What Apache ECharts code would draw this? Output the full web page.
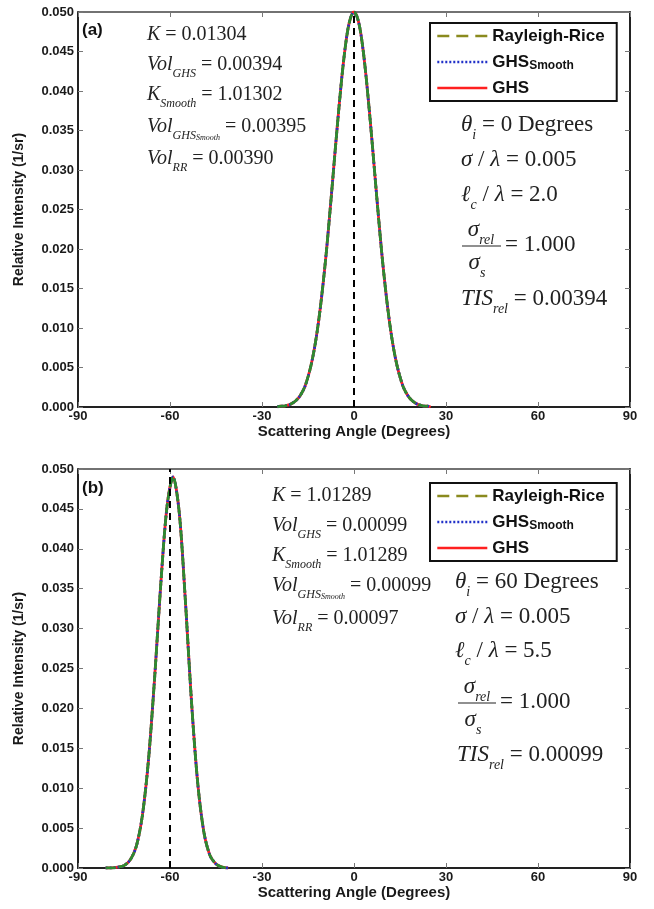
<!DOCTYPE html>
<html>
<head>
<meta charset="utf-8">
<script src="https://cdn.jsdelivr.net/npm/echarts@6/dist/echarts.min.js"></script>
<style>html,body{margin:0;padding:0;background:#fff;}#c{width:654px;height:909px;}</style>
</head>
<body>
<div id="c"></div>
<script>
// ---------------- data ----------------
const xTicks = [-90, -60, -30, 0, 30, 60, 90];
const yTicks = [0, 0.005, 0.01, 0.015, 0.02, 0.025, 0.03, 0.035, 0.04, 0.045, 0.05];
const seriesNames = ['Rayleigh-Rice', 'GHS_Smooth', 'GHS'];

// panel (a): theta_i = 0
const anglesA = [-25,-24,-23,-22,-21,-20,-19,-18,-17,-16,-15,-14,-13,-12,-11,-10,-9,-8,-7,-6,-5,-4,-3,-2,-1,0,
                 1,2,3,4,5,6,7,8,9,10,11,12,13,14,15,16,17,18,19,20,21,22,23,24,25];
const ghsA = [0.0000,0.0001,0.0001,0.0002,0.0003,0.0005,0.0008,0.0012,0.0018,0.0026,0.0038,0.0053,0.0072,0.0096,0.0125,0.0159,0.0197,0.0240,0.0285,0.0331,0.0375,0.0416,0.0451,0.0478,0.0494,0.0500,
              0.0494,0.0478,0.0451,0.0416,0.0375,0.0331,0.0285,0.0240,0.0197,0.0159,0.0125,0.0096,0.0072,0.0053,0.0038,0.0026,0.0018,0.0012,0.0008,0.0005,0.0003,0.0002,0.0001,0.0001,0.0000];
const ghsSmoothA = ghsA.slice();
const rayleighRiceA = ghsA.slice();
const incidenceA = 0;

// panel (b): theta_i = 60
const anglesB = [-81,-79,-77,-75,-73,-71,-69,-67,-65,-63,-61,-59,-57,-55,-53,-51,-49,-47,-45,-43,-41];
const ghsB = [0.0000,0.0000,0.0001,0.0003,0.0010,0.0027,0.0066,0.0136,0.0239,0.0356,0.0452,0.0490,0.0446,0.0336,0.0209,0.0108,0.0046,0.0016,0.0005,0.0001,0.0000];
const ghsSmoothB = ghsB.slice();
const rayleighRiceB = ghsB.slice();
const incidenceB = -60;
const yTop = 0.05;

// ---------------- helpers ----------------
const SANS = 'Liberation Sans';
const SERIF = 'Liberation Serif';
function pairs(xs, ys){ return xs.map((x,i)=>[x, ys[i]]); }

const grids = [
  {left: 78, top: 12, width: 552, height: 395},
  {left: 78, top: 469, width: 552, height: 399}
];

function xAxes(gi){
  return [
    {type:'value', gridIndex:gi, min:-90, max:90, interval:30, position:'bottom',
     name:'Scattering Angle (Degrees)', nameLocation:'middle', nameGap:16,
     nameTextStyle:{fontFamily:SANS, fontWeight:'bold', fontSize:15, color:'#1a1a1a'},
     axisLine:{show:true, onZero:false, lineStyle:{color:'#222', width:2}},
     axisTick:{show:true, inside:true, length:5, lineStyle:{color:'#777', width:1}},
     axisLabel:{show:true, margin:3, fontFamily:SANS, fontWeight:'bold', fontSize:13, color:'#1a1a1a',
       formatter: v => xTicks.includes(v) ? String(v) : ''},
     splitLine:{show:false}},
    {type:'value', gridIndex:gi, min:-90, max:90, interval:30, position:'top',
     axisLine:{show:true, onZero:false, lineStyle:{color:'#444', width:1.5}},
     axisTick:{show:true, inside:true, length:5, lineStyle:{color:'#777', width:1}},
     axisLabel:{show:false}, splitLine:{show:false}}
  ];
}
function yAxes(gi){
  return [
    {type:'value', gridIndex:gi, min:0, max:0.05, interval:0.005, position:'left',
     name:'Relative Intensity (1/sr)', nameLocation:'middle', nameGap:52,
     nameTextStyle:{fontFamily:SANS, fontWeight:'bold', fontSize:14, color:'#1a1a1a'},
     axisLine:{show:true, onZero:false, lineStyle:{color:'#222', width:2}},
     axisTick:{show:true, inside:true, length:5, lineStyle:{color:'#777', width:1}},
     axisLabel:{show:true, margin:4, fontFamily:SANS, fontWeight:'bold', fontSize:13, color:'#1a1a1a',
       formatter: v => { const t = yTicks.find(k => Math.abs(k - v) < 1e-9); return t === undefined ? '' : t.toFixed(3); }},
     splitLine:{show:false}},
    {type:'value', gridIndex:gi, min:0, max:0.05, interval:0.005, position:'right',
     axisLine:{show:true, onZero:false, lineStyle:{color:'#222', width:2}},
     axisTick:{show:true, inside:true, length:5, lineStyle:{color:'#777', width:1}},
     axisLabel:{show:false}, splitLine:{show:false}}
  ];
}

function panelSeries(axisIdx, angles, ghs, ghsSmooth, rr, inc){
  const common = {type:'line', xAxisIndex:axisIdx, yAxisIndex:axisIdx, showSymbol:false, symbol:'none', smooth:0.3, silent:true, animation:false};
  return [
    Object.assign({}, common, {name:'GHS', data:pairs(angles, ghs), z:3,
      lineStyle:{color:'#ff2020', width:2.8, type:'solid'}, itemStyle:{color:'#ff2020'}}),
    Object.assign({}, common, {name:'GHS_Smooth', data:pairs(angles, ghsSmooth), z:4,
      lineStyle:{color:'#2030c8', width:2.8, type:[2,2]}, itemStyle:{color:'#2030c8'}}),
    Object.assign({}, common, {name:'Rayleigh-Rice', data:pairs(angles, rr), z:5,
      lineStyle:{color:'#2e8a30', width:2.8, type:[10,3]}, itemStyle:{color:'#2e8a30'}}),
    Object.assign({}, common, {name:'incidence', smooth:false, data:[[inc,0],[inc,yTop]], z:6,
      lineStyle:{color:'#000', width:2, type:[7,5]}})
  ];
}

const hidden = {color:'rgba(0,0,0,0)', borderWidth:0, opacity:0};
function legendFor(top){
  return {
    show:true, orient:'vertical', left:430, top:top,
    data:[
      {name:'Rayleigh-Rice', lineStyle:{color:'#8a8a1e', width:2.6, type:[12,7], opacity:1}, itemStyle:hidden},
      {name:'GHS_Smooth', lineStyle:{color:'#2030c8', width:2.6, type:[2,2], opacity:1}, itemStyle:hidden},
      {name:'GHS', lineStyle:{color:'#ff2020', width:2.6, type:'solid', opacity:1}, itemStyle:hidden}
    ],
    itemWidth:50, itemHeight:14, itemGap:6,
    borderColor:'#111', borderWidth:2, backgroundColor:'#fff', padding:[3,12,3,6],
    selectedMode:false,
    formatter: name => name === 'GHS_Smooth' ? 'GHS{sub|Smooth}' : name,
    textStyle:{fontFamily:SANS, fontWeight:'bold', fontSize:17, color:'#111', lineHeight:20,
      rich:{sub:{fontFamily:SANS, fontWeight:'bold', fontSize:12, color:'#111', lineHeight:10, verticalAlign:'bottom'}}}
  };
}

// rich math text
function richStyles(sz){
  const sub = Math.round(sz*0.6), ss = Math.round(sz*0.42);
  const L = Math.round(sz*1.5);
  return {
    i:{fontFamily:SERIF, fontStyle:'italic', fontSize:sz, lineHeight:L, color:'#222', verticalAlign:'middle'},
    n:{fontFamily:SERIF, fontSize:sz, lineHeight:L, color:'#222', verticalAlign:'middle'},
    s:{fontFamily:SERIF, fontStyle:'italic', fontSize:sub, lineHeight:Math.round(L-2*sz*0.34), color:'#222', verticalAlign:'bottom'},
    ss:{fontFamily:SERIF, fontStyle:'italic', fontSize:ss, lineHeight:Math.max(4, Math.round(L-2*sz*0.62)), color:'#222', verticalAlign:'bottom'}
  };
}
function mt(x, y, text, sz, align){
  return {type:'text', x:x, y:y, silent:true, z:50,
    style:{text:text, rich:richStyles(sz), fill:'#222', font: sz+'px '+SERIF, align: align||'left', verticalAlign:'middle'}};
}
function fraction(xc, yBar, x1, x2, sz, value){
  return [
    mt(xc, yBar-16, '{i|σ}{s|rel}', sz, 'center'),
    {type:'line', silent:true, z:50, shape:{x1:x1, y1:yBar, x2:x2, y2:yBar}, style:{stroke:'#222', lineWidth:1.2}},
    mt(xc-4, yBar+17, '{i|σ}{s|s}', sz, 'center'),
    mt(x2+4, yBar-1, '{n|= ' + value + '}', sz)
  ];
}
function label(x, y, t){
  return {type:'text', x:x, y:y, silent:true, z:50, style:{text:t, font:'bold 17px '+SANS, fill:'#111', verticalAlign:'middle'}};
}

const graphics = [].concat(
  [label(82, 30, '(a)'), label(82, 488, '(b)')],
  // panel a left block
  [mt(147, 35, '{i|K}{n| = 0.01304}', 20),
   mt(147, 65, '{i|Vol}{s|GHS}{n| = 0.00394}', 20),
   mt(147, 95, '{i|K}{s|Smooth}{n| = 1.01302}', 20),
   mt(147, 127, '{i|Vol}{s|GHS}{ss|Smooth}{n| = 0.00395}', 20),
   mt(147, 159, '{i|Vol}{s|RR}{n| = 0.00390}', 20)],
  // panel a right block
  [mt(461, 125, '{i|θ}{s|i}{n| = 0 Degrees}', 23),
   mt(461, 160, '{i|σ}{n| / }{i|λ}{n| = 0.005}', 23),
   mt(461, 195, '{i|ℓ}{s|c}{n| / }{i|λ}{n| = 2.0}', 23)],
  fraction(481, 246, 462, 501, 23, '1.000'),
  [mt(461, 299, '{i|TIS}{s|rel}{n| = 0.00394}', 23)],
  // panel b left block
  [mt(272, 496, '{i|K}{n| = 1.01289}', 20),
   mt(272, 526, '{i|Vol}{s|GHS}{n| = 0.00099}', 20),
   mt(272, 556, '{i|K}{s|Smooth}{n| = 1.01289}', 20),
   mt(272, 586, '{i|Vol}{s|GHS}{ss|Smooth}{n| = 0.00099}', 20),
   mt(272, 619, '{i|Vol}{s|RR}{n| = 0.00097}', 20)],
  // panel b right block
  [mt(455, 582, '{i|θ}{s|i}{n| = 60 Degrees}', 23),
   mt(455, 617, '{i|σ}{n| / }{i|λ}{n| = 0.005}', 23),
   mt(455, 651, '{i|ℓ}{s|c}{n| / }{i|λ}{n| = 5.5}', 23)],
  fraction(477, 703, 458, 496, 23, '1.000'),
  [mt(457, 755, '{i|TIS}{s|rel}{n| = 0.00099}', 23)]
);

const chart = echarts.init(document.getElementById('c'), null, {renderer:'canvas'});
chart.setOption({
  animation:false,
  backgroundColor:'#fff',
  grid: grids,
  xAxis: xAxes(0).concat(xAxes(1)),
  yAxis: yAxes(0).concat(yAxes(1)),
  legend: [legendFor(23), legendFor(483)],
  series: panelSeries(0, anglesA, ghsA, ghsSmoothA, rayleighRiceA, incidenceA)
    .concat(panelSeries(2, anglesB, ghsB, ghsSmoothB, rayleighRiceB, incidenceB)),
  graphic: graphics
});
</script>
</body>
</html>
